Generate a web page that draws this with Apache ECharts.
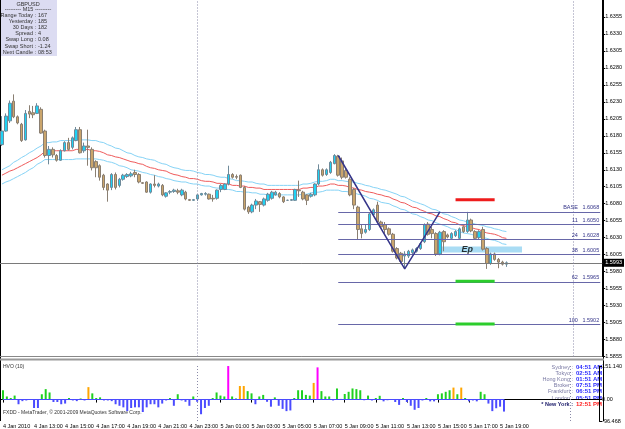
<!DOCTYPE html>
<html>
<head>
<meta charset="utf-8">
<title>GBPUSD M15</title>
<script src="https://cdn.jsdelivr.net/npm/echarts@6/dist/echarts.min.js"></script>
<style>
  html, body { margin: 0; padding: 0; background: #fff; }
  #chart { width: 625px; height: 429px; }
</style>
</head>
<body>
<div id="chart"></div>
<script>
// GBPUSD M15, bars from 4 Jan 11:00 to 5 Jan 19:15 (130 bars)
const opens = [
  1.6167, 1.6187, 1.6202, 1.6231, 1.6208, 1.6197, 1.6174, 1.6216, 1.6214, 1.6213,
  1.6219, 1.6187, 1.6151, 1.6160, 1.6151, 1.6144, 1.6158, 1.6170, 1.6163, 1.6173,
  1.6189, 1.6158, 1.6165, 1.6160, 1.6142, 1.6136, 1.6122, 1.6109, 1.6104, 1.6123,
  1.6107, 1.6116, 1.6120, 1.6121, 1.6126, 1.6123, 1.6111, 1.6112, 1.6097, 1.6109,
  1.6106, 1.6107, 1.6091, 1.6097, 1.6098, 1.6099, 1.6093, 1.6097, 1.6086, 1.6085,
  1.6087, 1.6093, 1.6094, 1.6094, 1.6088, 1.6088, 1.6101, 1.6101, 1.6109, 1.6123,
  1.6120, 1.6122, 1.6104, 1.6075, 1.6068, 1.6078, 1.6083, 1.6078, 1.6085, 1.6088,
  1.6093, 1.6095, 1.6090, 1.6085, 1.6085, 1.6085, 1.6100, 1.6097, 1.6093, 1.6091,
  1.6093, 1.6109, 1.6130, 1.6123, 1.6126, 1.6139, 1.6150, 1.6143, 1.6129, 1.6116,
  1.6101, 1.6075, 1.6043, 1.6038, 1.6042, 1.6064, 1.6078, 1.6053, 1.6049, 1.6043,
  1.6035, 1.6014, 1.6007, 1.6003, 1.6003, 1.6008, 1.6010, 1.6014, 1.6024, 1.6050,
  1.6042, 1.6036, 1.6006, 1.6039, 1.6034, 1.6029, 1.6033, 1.6029, 1.6046, 1.6039,
  1.6056, 1.6039, 1.6030, 1.6042, 1.6014, 1.5992, 1.6006, 1.5998, 1.5994, 1.5991
]
const closes = [
  1.6187, 1.6209, 1.6228, 1.6208, 1.6199, 1.6173, 1.6213, 1.6212, 1.6211, 1.6224,
  1.6184, 1.6151, 1.6160, 1.6152, 1.6144, 1.6158, 1.6170, 1.6160, 1.6177, 1.6189,
  1.6155, 1.6165, 1.6163, 1.6133, 1.6133, 1.6119, 1.6104, 1.6100, 1.6123, 1.6104,
  1.6116, 1.6122, 1.6123, 1.6124, 1.6123, 1.6112, 1.6110, 1.6097, 1.6109, 1.6107,
  1.6109, 1.6093, 1.6096, 1.6098, 1.6100, 1.6097, 1.6100, 1.6087, 1.6085, 1.6086,
  1.6093, 1.6095, 1.6095, 1.6087, 1.6087, 1.6100, 1.6107, 1.6109, 1.6123, 1.6119,
  1.6119, 1.6104, 1.6072, 1.6068, 1.6078, 1.6084, 1.6079, 1.6087, 1.6094, 1.6097,
  1.6097, 1.6090, 1.6083, 1.6085, 1.6086, 1.6101, 1.6099, 1.6087, 1.6085, 1.6094,
  1.6109, 1.6130, 1.6122, 1.6130, 1.6141, 1.6151, 1.6122, 1.6119, 1.6119, 1.6093,
  1.6078, 1.6042, 1.6036, 1.6042, 1.6065, 1.6071, 1.6053, 1.6046, 1.6042, 1.6035,
  1.6010, 1.6000, 1.5995, 1.6006, 1.6010, 1.6012, 1.6014, 1.6021, 1.6049, 1.6035,
  1.6036, 1.6006, 1.6038, 1.6024, 1.6031, 1.6036, 1.6039, 1.6043, 1.6039, 1.6056,
  1.6040, 1.6029, 1.6039, 1.6013, 1.5992, 1.6006, 1.5998, 1.5994, 1.5991, 1.5993
]
const lows = [
  1.6165, 1.6186, 1.6199, 1.6206, 1.6197, 1.6171, 1.6173, 1.6206, 1.6206, 1.6212,
  1.6183, 1.6148, 1.6138, 1.6148, 1.6142, 1.6143, 1.6157, 1.6158, 1.6160, 1.6172,
  1.6154, 1.6155, 1.6136, 1.6129, 1.6119, 1.6114, 1.6100, 1.6083, 1.6100, 1.6101,
  1.6104, 1.6114, 1.6118, 1.6119, 1.6119, 1.6110, 1.6109, 1.6096, 1.6095, 1.6104,
  1.6104, 1.6091, 1.6089, 1.6094, 1.6096, 1.6094, 1.6091, 1.6085, 1.6084, 1.6084,
  1.6084, 1.6092, 1.6092, 1.6086, 1.6083, 1.6086, 1.6097, 1.6100, 1.6107, 1.6117,
  1.6116, 1.6103, 1.6070, 1.6065, 1.6066, 1.6072, 1.6068, 1.6076, 1.6083, 1.6086,
  1.6092, 1.6088, 1.6081, 1.6084, 1.6084, 1.6084, 1.6090, 1.6085, 1.6078, 1.6089,
  1.6091, 1.6107, 1.6120, 1.6121, 1.6124, 1.6138, 1.6120, 1.6116, 1.6117, 1.6091,
  1.6072, 1.6027, 1.6029, 1.6036, 1.6040, 1.6062, 1.6051, 1.6044, 1.6036, 1.6033,
  1.6008, 1.5998, 1.5991, 1.5984, 1.6000, 1.6006, 1.6008, 1.6012, 1.6022, 1.6033,
  1.6029, 1.6003, 1.6004, 1.6010, 1.6029, 1.6027, 1.6031, 1.6027, 1.6037, 1.6037,
  1.6038, 1.6027, 1.6028, 1.6011, 1.5984, 1.5990, 1.5996, 1.5985, 1.5989, 1.5987
]
const highs = [
  1.6209, 1.6213, 1.6232, 1.6241, 1.6210, 1.6199, 1.6218, 1.6225, 1.6224, 1.6228,
  1.6222, 1.6189, 1.6165, 1.6163, 1.6153, 1.6160, 1.6172, 1.6177, 1.6179, 1.6193,
  1.6193, 1.6170, 1.6189, 1.6163, 1.6144, 1.6138, 1.6124, 1.6110, 1.6125, 1.6126,
  1.6118, 1.6124, 1.6125, 1.6127, 1.6130, 1.6125, 1.6112, 1.6113, 1.6110, 1.6122,
  1.6111, 1.6109, 1.6097, 1.6100, 1.6102, 1.6102, 1.6102, 1.6099, 1.6087, 1.6087,
  1.6094, 1.6096, 1.6097, 1.6095, 1.6093, 1.6101, 1.6109, 1.6110, 1.6136, 1.6125,
  1.6123, 1.6123, 1.6106, 1.6077, 1.6080, 1.6087, 1.6084, 1.6089, 1.6096, 1.6099,
  1.6099, 1.6097, 1.6091, 1.6086, 1.6087, 1.6102, 1.6114, 1.6099, 1.6094, 1.6096,
  1.6110, 1.6138, 1.6132, 1.6132, 1.6143, 1.6153, 1.6152, 1.6148, 1.6131, 1.6119,
  1.6103, 1.6077, 1.6049, 1.6050, 1.6067, 1.6073, 1.6083, 1.6055, 1.6053, 1.6045,
  1.6037, 1.6016, 1.6009, 1.6010, 1.6012, 1.6014, 1.6016, 1.6023, 1.6051, 1.6053,
  1.6046, 1.6038, 1.6040, 1.6041, 1.6036, 1.6038, 1.6041, 1.6045, 1.6048, 1.6068,
  1.6058, 1.6041, 1.6041, 1.6046, 1.6016, 1.6008, 1.6008, 1.6000, 1.5996, 1.5995
]

// moving average (red) and its high / low envelope (light blue)
const maMid = [
  1.6122, 1.6125, 1.6128, 1.6130, 1.6133, 1.6136, 1.6139, 1.6142, 1.6145, 1.6148,
  1.6152, 1.6157, 1.6157, 1.6158, 1.6158, 1.6158, 1.6158, 1.6158, 1.6158, 1.6160,
  1.6160, 1.6160, 1.6160, 1.6158, 1.6158, 1.6157, 1.6155, 1.6152, 1.6151, 1.6149,
  1.6148, 1.6146, 1.6144, 1.6142, 1.6141, 1.6139, 1.6138, 1.6135, 1.6133, 1.6132,
  1.6130, 1.6129, 1.6128, 1.6125, 1.6123, 1.6122, 1.6120, 1.6119, 1.6117, 1.6117,
  1.6116, 1.6114, 1.6113, 1.6113, 1.6112, 1.6110, 1.6110, 1.6109, 1.6109, 1.6107,
  1.6107, 1.6106, 1.6106, 1.6104, 1.6104, 1.6103, 1.6103, 1.6101, 1.6101, 1.6101,
  1.6101, 1.6101, 1.6101, 1.6101, 1.6101, 1.6101, 1.6101, 1.6103, 1.6103, 1.6104,
  1.6104, 1.6106, 1.6106, 1.6107, 1.6109, 1.6109, 1.6107, 1.6107, 1.6106, 1.6104,
  1.6103, 1.6101, 1.6100, 1.6098, 1.6097, 1.6096, 1.6094, 1.6093, 1.6091, 1.6090,
  1.6087, 1.6085, 1.6082, 1.6081, 1.6078, 1.6075, 1.6074, 1.6071, 1.6069, 1.6066,
  1.6065, 1.6062, 1.6061, 1.6058, 1.6056, 1.6053, 1.6052, 1.6049, 1.6048, 1.6046,
  1.6045, 1.6043, 1.6042, 1.6039, 1.6037, 1.6036, 1.6035, 1.6033, 1.6030, 1.6029
]
const maUp = [
  1.6130, 1.6133, 1.6136, 1.6141, 1.6144, 1.6148, 1.6151, 1.6155, 1.6158, 1.6162,
  1.6165, 1.6170, 1.6170, 1.6171, 1.6171, 1.6173, 1.6173, 1.6173, 1.6173, 1.6174,
  1.6174, 1.6174, 1.6174, 1.6173, 1.6173, 1.6171, 1.6170, 1.6167, 1.6165, 1.6162,
  1.6161, 1.6158, 1.6155, 1.6154, 1.6151, 1.6149, 1.6148, 1.6146, 1.6145, 1.6144,
  1.6141, 1.6139, 1.6138, 1.6135, 1.6133, 1.6132, 1.6130, 1.6129, 1.6129, 1.6128,
  1.6126, 1.6125, 1.6123, 1.6123, 1.6122, 1.6120, 1.6119, 1.6119, 1.6117, 1.6116,
  1.6114, 1.6114, 1.6113, 1.6112, 1.6112, 1.6110, 1.6109, 1.6109, 1.6107, 1.6107,
  1.6107, 1.6107, 1.6107, 1.6107, 1.6107, 1.6107, 1.6107, 1.6109, 1.6109, 1.6110,
  1.6112, 1.6113, 1.6113, 1.6114, 1.6116, 1.6116, 1.6114, 1.6114, 1.6113, 1.6112,
  1.6112, 1.6110, 1.6109, 1.6107, 1.6106, 1.6104, 1.6103, 1.6101, 1.6100, 1.6098,
  1.6096, 1.6094, 1.6091, 1.6090, 1.6087, 1.6084, 1.6082, 1.6080, 1.6078, 1.6075,
  1.6072, 1.6071, 1.6068, 1.6065, 1.6064, 1.6061, 1.6059, 1.6056, 1.6055, 1.6053,
  1.6052, 1.6050, 1.6049, 1.6048, 1.6046, 1.6045, 1.6043, 1.6042, 1.6040, 1.6039
]
const maDn = [
  1.6109, 1.6112, 1.6114, 1.6117, 1.6120, 1.6123, 1.6126, 1.6130, 1.6133, 1.6138,
  1.6141, 1.6145, 1.6145, 1.6145, 1.6145, 1.6145, 1.6145, 1.6145, 1.6145, 1.6146,
  1.6146, 1.6146, 1.6146, 1.6146, 1.6146, 1.6145, 1.6144, 1.6142, 1.6141, 1.6139,
  1.6136, 1.6135, 1.6133, 1.6130, 1.6129, 1.6128, 1.6126, 1.6125, 1.6123, 1.6122,
  1.6120, 1.6119, 1.6117, 1.6116, 1.6114, 1.6113, 1.6112, 1.6112, 1.6110, 1.6109,
  1.6109, 1.6107, 1.6106, 1.6106, 1.6104, 1.6103, 1.6103, 1.6101, 1.6101, 1.6100,
  1.6098, 1.6098, 1.6097, 1.6097, 1.6096, 1.6096, 1.6094, 1.6094, 1.6093, 1.6093,
  1.6093, 1.6093, 1.6093, 1.6093, 1.6093, 1.6093, 1.6093, 1.6094, 1.6094, 1.6096,
  1.6097, 1.6097, 1.6098, 1.6100, 1.6100, 1.6100, 1.6100, 1.6098, 1.6098, 1.6097,
  1.6096, 1.6094, 1.6093, 1.6091, 1.6088, 1.6087, 1.6085, 1.6082, 1.6081, 1.6080,
  1.6077, 1.6075, 1.6072, 1.6071, 1.6068, 1.6065, 1.6064, 1.6061, 1.6059, 1.6056,
  1.6055, 1.6052, 1.6050, 1.6048, 1.6046, 1.6043, 1.6042, 1.6039, 1.6037, 1.6036,
  1.6035, 1.6033, 1.6032, 1.6030, 1.6029, 1.6027, 1.6026, 1.6024, 1.6021, 1.6020
]

// HVO (10) histogram
const hvo = [
  42, 14, 7, 18, -21, -7, -4, -2, -38, -38,
  24, 47, 32, -11, -11, -21, -18, 7, -4, -7,
  5, -4, 56, 28, 7, 10, -4, -4, -7, -21,
  -28, -35, -52, -38, -35, -35, -56, -35, -21, -21,
  -35, -18, -4, 7, -28, 24, -4, -10, -28, 14,
  -10, -66, -38, -28, 7, 32, 18, 14, 151, 14,
  5, 61, 61, 38, 28, -21, 14, 21, -10, -32,
  10, -28, -42, -52, -49, 7, 42, 42, 21, 18,
  75, 145, 38, 14, 14, -4, 50, 3, 25, 35,
  50, 47, 42, -3, 18, -4, 7, 17, -8, -3,
  -2, -11, -24, 7, -11, -28, -46, -38, -4, 7,
  -8, -8, 24, 28, 35, 42, 54, 24, 54, 7,
  -8, -4, -8, 35, 24, -18, -52, -39, -32, -54
]

const timeLabels = ['4 Jan 2010', '4 Jan 13:00', '4 Jan 15:00', '4 Jan 17:00', '4 Jan 19:00',
  '4 Jan 21:00', '4 Jan 23:00', '5 Jan 01:00', '5 Jan 03:00', '5 Jan 05:00', '5 Jan 07:00',
  '5 Jan 09:00', '5 Jan 11:00', '5 Jan 13:00', '5 Jan 15:00', '5 Jan 17:00', '5 Jan 19:00']

// zigzag swing points [bar, price]
const zigzag = [[86, 1.6151], [103, 1.5984], [112, 1.6068]]

// fibo levels
const fibStart = 86
const fibNames = ['BASE', '11', '24', '38', '62', '100']
const fibPrices = [1.6068, 1.6050, 1.6028, 1.6005, 1.5965, 1.5902]

// entry zone + target / stop bars
const epZone = { from: 111, to: 133, top: 1.6017, bottom: 1.6008 }
const targetBars = [116, 121, 126]
const stopPrice = 1.6086
const targetPrices = [1.5966, 1.5903]

const separators = [50, 146]

const infoLabels = ['Range Today', 'Yesterday', '30 Days', 'Spread', 'Swap Long', 'Swap Short', 'Next Candle']
const infoValues = ['167', '185', '182', '4', '0.08', '-1.24', '08:53']
const cityNames = ['Sydney', 'Tokyo', 'Hong Kong', 'Broker', 'Frankfurt', 'London', '* New York']
const cityTimes = ['04:51 AM', '02:51 AM', '01:51 AM', '07:51 PM', '06:51 PM', '05:51 PM', '12:51 PM']

const SLOTS = 154
const cats = []
for (let i = 0; i < SLOTS; i++) cats.push(String(i))

const lastPrice = closes[closes.length - 1]
const candles = opens.map((o, i) => [o, closes[i], lows[i], highs[i]])

const FONT = '"Liberation Sans", Arial, sans-serif'
const hvoColor = v => v < 0 ? '#4b4bff' : v >= 100 ? '#ff00ff' : v >= 53 ? '#ffa500' : '#1fd11f'
const sepStyle = { color: '#8a8aa8', type: [1, 2], width: 1 }

const fibLines = fibPrices.map((p, k) => [
  {
    coord: [fibStart, p],
    lineStyle: { color: '#6767a8', width: 1, type: 'solid' },
    label: {
      show: true, position: 'insideEndTop', distance: 1,
      formatter: fibNames[k] + '   ' + p.toFixed(4),
      color: '#333388', fontSize: 5.5, fontFamily: FONT
    }
  },
  { coord: [SLOTS - 1, p] }
])

const sepLines = (lo, hi) => separators.map(s => [
  { coord: [s, lo], lineStyle: sepStyle, label: { show: false } },
  { coord: [s, hi] }
])

const targetSeries = (price, color) => ({
  type: 'line',
  xAxisIndex: 0, yAxisIndex: 0,
  data: targetBars.map(b => [b, price]),
  symbol: 'rect', symbolSize: 4,
  lineStyle: { color: color, width: 3 },
  itemStyle: { color: color },
  z: 6, silent: true
})

const txt = (x, y, text, opt) => ({
  type: 'text', x: x, y: y, silent: true,
  style: Object.assign({
    text: text, fill: '#333', font: '5.5px ' + FONT,
    align: 'left', textAlign: 'left', verticalAlign: 'middle', textVerticalAlign: 'middle'
  }, opt || {})
})

const graphics = [
  { type: 'rect', shape: { x: 0, y: 0, width: 57, height: 56 }, style: { fill: '#dcdcf2' }, silent: true },
  txt(28, 4, 'GBPUSD', { align: 'center', textAlign: 'center' }),
  txt(28, 9, '--------- M15 ---------', { align: 'center', textAlign: 'center' }),
  { type: 'line', shape: { x1: 0.5, y1: 0, x2: 0.5, y2: 421 }, style: { stroke: '#000', lineWidth: 1 }, silent: true },
  { type: 'line', shape: { x1: 603.5, y1: 0, x2: 603.5, y2: 421 }, style: { stroke: '#000', lineWidth: 1 }, silent: true },
  { type: 'line', shape: { x1: 0, y1: 359.5, x2: 604, y2: 359.5 }, style: { stroke: '#9a9a9a', lineWidth: 2 }, silent: true },
  txt(3, 367, 'HVO (10)', { font: '5px ' + FONT }),
  txt(3, 413, 'FXDD - MetaTrader, \u00a9 2001-2009 MetaQuotes Software Corp.', { font: '5px ' + FONT })
]
infoLabels.forEach((l, k) => {
  graphics.push(txt(36, 15 + k * 6.2, l + ' :', { align: 'right', textAlign: 'right' }))
  graphics.push(txt(38, 15 + k * 6.2, infoValues[k]))
})
cityNames.forEach((c, k) => {
  const ny = k === cityNames.length - 1
  graphics.push(txt(573, 367 + k * 6.2, c + ' :', {
    align: 'right', textAlign: 'right',
    font: (ny ? 'bold ' : '') + '5.5px ' + FONT, fill: ny ? '#22226e' : '#7a7aa4'
  }))
  graphics.push(txt(576, 367 + k * 6.2, cityTimes[k], {
    font: 'bold 6px ' + FONT, fill: ny ? '#ff2020' : '#2a2aff'
  }))
})

const chart = echarts.init(document.getElementById('chart'), null, { renderer: 'canvas' })

chart.setOption({
  animation: false,
  backgroundColor: '#ffffff',
  grid: [
    { left: -1, right: 21, top: -4.7, height: 361.2 },
    { left: -1, right: 21, top: 366, height: 55 }
  ],
  xAxis: [
    {
      type: 'category', gridIndex: 0, data: cats, boundaryGap: true,
      axisLine: { show: true, lineStyle: { color: '#888' } },
      axisTick: { show: false }, axisLabel: { show: false }, splitLine: { show: false }
    },
    {
      type: 'category', gridIndex: 1, data: cats, boundaryGap: true,
      axisLine: { show: true, lineStyle: { color: '#000' } },
      axisTick: {
        show: true, alignWithLabel: true, length: 3, lineStyle: { color: '#000' },
        interval: i => i % 8 === 0 && i <= 128
      },
      axisLabel: {
        show: true, fontSize: 5.5, fontFamily: FONT, color: '#000', margin: 2, align: 'left',
        interval: i => i % 8 === 0 && i <= 128,
        formatter: (v, i) => timeLabels[i / 8] || ''
      },
      splitLine: { show: false }
    }
  ],
  yAxis: [
    {
      type: 'value', gridIndex: 0, position: 'right',
      min: 1.5855, max: 1.6380, interval: 0.0025,
      axisLine: { show: true, lineStyle: { color: '#000' } },
      axisTick: { show: true, length: 3, lineStyle: { color: '#000' } },
      axisLabel: {
        fontSize: 5.5, fontFamily: FONT, color: '#000', margin: 3, showMaxLabel: false,
        formatter: v => v.toFixed(4)
      },
      splitLine: { show: false }
    },
    {
      type: 'value', gridIndex: 1, position: 'right',
      min: -96.468, max: 151.14,
      axisLine: { show: true, lineStyle: { color: '#000' } },
      axisTick: { show: true, length: 3, lineStyle: { color: '#000' }, customValues: [-96.468, 0, 151.14] },
      axisLabel: {
        fontSize: 5.5, fontFamily: FONT, color: '#000', margin: 3,
        customValues: [-96.468, 0, 151.14],
        formatter: v => Math.abs(v) < 1e-9 ? '0.00' : v.toFixed(3)
      },
      splitLine: { show: false }
    }
  ],
  series: [
    {
      name: 'GBPUSD', type: 'candlestick', xAxisIndex: 0, yAxisIndex: 0,
      data: candles, barWidth: 3,
      itemStyle: { color: '#1ed2f4', color0: '#caa56c', borderColor: '#6f8a9a', borderColor0: '#8a7f72', borderWidth: 1 },
      z: 4,
      markArea: {
        silent: true,
        itemStyle: { color: 'rgba(112, 196, 236, 0.6)' },
        data: [[{ coord: [epZone.from, epZone.top] }, { coord: [epZone.to, epZone.bottom] }]]
      },
      markLine: {
        silent: true, symbol: ['none', 'none'], animation: false, precision: 4,
        data: [
          {
            yAxis: lastPrice,
            lineStyle: { color: '#7a7a7a', width: 1, type: 'solid' },
            label: {
              show: true, position: 'end', distance: 1,
              formatter: p => Number(p.value).toFixed(4),
              backgroundColor: '#000', color: '#fff', fontSize: 5.5, fontFamily: FONT, padding: [1, 2, 1, 2]
            }
          },
          ...sepLines(1.5855, 1.6380),
          ...fibLines
        ]
      }
    },
    { type: 'line', xAxisIndex: 0, yAxisIndex: 0, data: maUp, symbol: 'none', lineStyle: { color: '#86d3f6', width: 1 }, z: 3, silent: true },
    { type: 'line', xAxisIndex: 0, yAxisIndex: 0, data: maMid, symbol: 'none', lineStyle: { color: '#ef5b5b', width: 1 }, z: 3, silent: true },
    { type: 'line', xAxisIndex: 0, yAxisIndex: 0, data: maDn, symbol: 'none', lineStyle: { color: '#86d3f6', width: 1 }, z: 3, silent: true },
    {
      type: 'line', xAxisIndex: 0, yAxisIndex: 0, data: zigzag,
      symbol: 'rect', symbolSize: 3,
      lineStyle: { color: '#35358a', width: 1.5 }, itemStyle: { color: '#35358a' }, z: 5, silent: true
    },
    targetSeries(stopPrice, '#ee1c1c'),
    targetSeries(targetPrices[0], '#2ccd2c'),
    targetSeries(targetPrices[1], '#2ccd2c'),
    {
      type: 'scatter', xAxisIndex: 0, yAxisIndex: 0,
      data: [[119, (epZone.top + epZone.bottom) / 2]], symbolSize: 0, z: 7, silent: true,
      label: { show: true, position: 'inside', formatter: 'Ep', color: '#000', fontSize: 9, fontWeight: 'bold', fontStyle: 'italic', fontFamily: FONT }
    },
    {
      name: 'HVO', type: 'bar', xAxisIndex: 1, yAxisIndex: 1, barWidth: 2,
      data: hvo.map(v => ({ value: v, itemStyle: { color: hvoColor(v) } })),
      markLine: {
        silent: true, symbol: ['none', 'none'], animation: false, precision: 4,
        data: [
          [{ coord: [0, 0], lineStyle: { color: '#4b4bff', width: 1, type: 'solid' }, label: { show: false } }, { coord: [hvo.length - 1, 0] }],
          ...sepLines(-96.468, 151.14)
        ]
      }
    }
  ],
  graphic: graphics
})
</script>
</body>
</html>
